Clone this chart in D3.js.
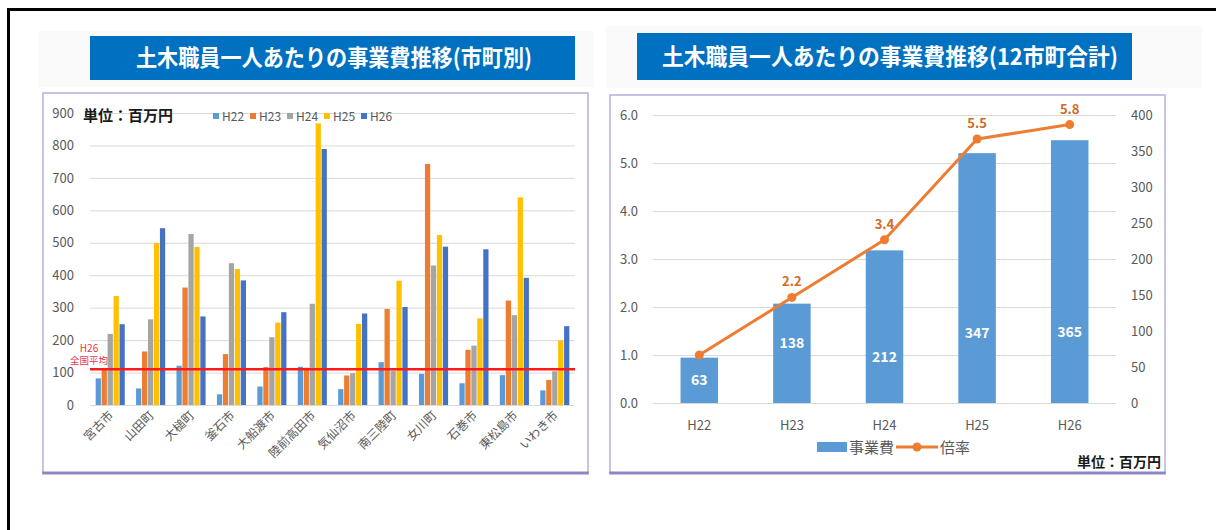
<!DOCTYPE html>
<html>
<head>
<meta charset="utf-8">
<script src="https://cdn.jsdelivr.net/npm/d3@7/dist/d3.min.js"></script>
<style>
  html, body { margin: 0; padding: 0; background: #fff; }
  svg { display: block; }
  text { font-family: "Noto Sans CJK JP", "Noto Sans", sans-serif; }
</style>
</head>
<body>
<svg id="chart" width="1216" height="530"></svg>
<script>
// ---- data: per-municipality cost per civil-engineering staff (百万円) ----
const municipalities = ["宮古市", "山田町", "大槌町", "釜石市", "大船渡市", "陸前高田市",
                        "気仙沼市", "南三陸町", "女川町", "石巻市", "東松島市", "いわき市"];
const yearKeys = ["H22", "H23", "H24", "H25", "H26"];
const valuesH22 = [82, 51, 121, 33, 57, 118, 49, 132, 96, 67, 92, 45];
const valuesH23 = [112, 165, 362, 157, 117, 115, 91, 296, 743, 170, 322, 77];
const valuesH24 = [219, 264, 527, 437, 209, 312, 98, 106, 430, 183, 277, 104];
const valuesH25 = [336, 499, 487, 419, 254, 868, 250, 383, 524, 267, 640, 199];
const valuesH26 = [249, 545, 273, 384, 286, 789, 282, 302, 488, 480, 392, 243];
const nationalAverageH26 = 110;
const leftTicks = [0, 100, 200, 300, 400, 500, 600, 700, 800, 900];

// ---- data: 12-municipality total ----
const totalYears = ["H22", "H23", "H24", "H25", "H26"];
const totalCost = [63, 138, 212, 347, 365];
const costRatio = [1.0, 2.2, 3.4, 5.5, 5.8];
const ratioTicks = [0, 1, 2, 3, 4, 5, 6];
const costTicks = [0, 50, 100, 150, 200, 250, 300, 350, 400];

const seriesValues = [valuesH22, valuesH23, valuesH24, valuesH25, valuesH26];
const seriesColors = ["#5b9bd5", "#ed7d31", "#a5a5a5", "#ffc000", "#4472c4"];
const gray = "#595959";
const grid = "#d9d9d9";

const svg = d3.select("#chart");

// page frame
svg.append("rect").attr("x", 7).attr("y", 8).attr("width", 1209).attr("height", 3).attr("fill", "#000");
svg.append("rect").attr("x", 7).attr("y", 8).attr("width", 3).attr("height", 522).attr("fill", "#000");

// faint backdrop behind the headings
svg.append("rect").attr("x", 38).attr("y", 31).attr("width", 556).attr("height", 56).attr("fill", "#fafafa");
svg.append("rect").attr("x", 606).attr("y", 26).attr("width", 596).attr("height", 62).attr("fill", "#fafafa");

function titleBox(x0, y0, x1, y1, label, tx0, tx1) {
  svg.append("rect").attr("x", x0).attr("y", y0).attr("width", x1 - x0).attr("height", y1 - y0)
    .attr("fill", "#0070c0");
  svg.append("text").attr("x", tx0).attr("y", (y0 + y1) / 2 + 8)
    .attr("textLength", tx1 - tx0).attr("lengthAdjust", "spacingAndGlyphs")
    .attr("fill", "#fff").attr("font-size", 23).attr("font-weight", 700).text(label);
}
function panel(x0, y0, x1, y1) {
  svg.append("rect").attr("x", x0).attr("y", y0).attr("width", x1 - x0).attr("height", y1 - y0)
    .attr("fill", "#fff").attr("stroke", "#b5b0e0").attr("stroke-width", 1.5);
  svg.append("rect").attr("x", x0 - 0.75).attr("y", y1 - 1.5).attr("width", x1 - x0 + 1.5).attr("height", 3)
    .attr("fill", "#8c86c6");
}

titleBox(90, 36, 575, 80, "土木職員一人あたりの事業費推移(市町別)", 136, 532);
titleBox(637, 33, 1132, 80, "土木職員一人あたりの事業費推移(12市町合計)", 662, 1118);
panel(43, 93, 588, 473);
panel(610, 95, 1165, 473);

// ================= left: grouped bars by municipality =================
{
  const x0 = d3.scaleBand().domain(municipalities).range([90, 575]).paddingInner(0.28).paddingOuter(0.14);
  const x1 = d3.scaleBand().domain(yearKeys).range([0, x0.bandwidth()]).paddingInner(0.12);
  const y = d3.scaleLinear().domain([0, 900]).range([405, 113]);
  const g = svg.append("g");

  g.append("g").selectAll("line").data(leftTicks).join("line")
    .attr("x1", 90).attr("x2", 575).attr("y1", d => y(d) + 0.5).attr("y2", d => y(d) + 0.5)
    .attr("stroke", grid).attr("stroke-width", 1);

  const yAxis = d3.axisLeft(y).tickValues(leftTicks).tickSize(0).tickPadding(0);
  const ya = g.append("g").attr("transform", "translate(74,0)").call(yAxis);
  ya.select(".domain").remove();
  ya.selectAll("text").attr("fill", gray).attr("font-size", 13)
    .attr("font-family", "'Noto Sans', sans-serif");

  const groups = g.append("g").selectAll("g").data(municipalities).join("g")
    .attr("transform", d => `translate(${x0(d)},0)`);
  groups.selectAll("rect").data((m, i) => yearKeys.map((k, s) => ({ k, s, v: seriesValues[s][i] })))
    .join("rect")
    .attr("x", d => x1(d.k)).attr("width", x1.bandwidth())
    .attr("y", d => y(d.v)).attr("height", d => y(0) - y(d.v))
    .attr("fill", d => seriesColors[d.s]);

  // national average line
  g.append("line").attr("x1", 90).attr("x2", 575)
    .attr("y1", y(nationalAverageH26)).attr("y2", y(nationalAverageH26))
    .attr("stroke", "#ff1a1a").attr("stroke-width", 2.5);
  g.append("text").attr("x", 89).attr("y", 352).attr("text-anchor", "middle")
    .attr("fill", "#e8384a").attr("font-size", 10).text("H26");
  g.append("text").attr("x", 89).attr("y", 364).attr("text-anchor", "middle")
    .attr("fill", "#e8384a").attr("font-size", 9.5).text("全国平均");

  // category labels
  g.append("g").selectAll("text").data(municipalities).join("text")
    .attr("transform", d => `translate(${x0(d) + x0.bandwidth() / 2 + 4},416) rotate(-45)`)
    .attr("text-anchor", "end").attr("fill", gray).attr("font-size", 12).text(d => d);

  // unit + legend
  g.append("text").attr("x", 83).attr("y", 121).attr("fill", "#1a1a1a")
    .attr("font-size", 15).attr("font-weight", 700).text("単位：百万円");
  const leg = g.append("g").selectAll("g").data(yearKeys).join("g")
    .attr("transform", (d, i) => `translate(${213 + i * 37},116)`);
  leg.append("rect").attr("x", 0).attr("y", -3).attr("width", 6).attr("height", 6)
    .attr("fill", (d, i) => seriesColors[i]);
  leg.append("text").attr("x", 9).attr("y", 4.5).attr("fill", gray).attr("font-size", 12)
    .attr("font-family", "'Noto Sans', sans-serif").text(d => d);
}

// ================= right: total cost bars + ratio line =================
{
  const x = d3.scaleBand().domain(totalYears).range([653, 1116]).paddingInner(0.595).paddingOuter(0.2975);
  const yL = d3.scaleLinear().domain([0, 6]).range([403, 115]);
  const yR = d3.scaleLinear().domain([0, 400]).range([403, 115]);
  const g = svg.append("g");

  g.append("g").selectAll("line").data(ratioTicks).join("line")
    .attr("x1", 653).attr("x2", 1116).attr("y1", d => yL(d) + 0.5).attr("y2", d => yL(d) + 0.5)
    .attr("stroke", grid).attr("stroke-width", 1);

  const la = g.append("g").attr("transform", "translate(638,0)")
    .call(d3.axisLeft(yL).tickValues(ratioTicks).tickSize(0).tickPadding(0).tickFormat(d3.format(".1f")));
  la.select(".domain").remove();
  la.selectAll("text").attr("fill", gray).attr("font-size", 13).attr("font-family", "'Noto Sans', sans-serif");

  const ra = g.append("g").attr("transform", "translate(1131,0)")
    .call(d3.axisRight(yR).tickValues(costTicks).tickSize(0).tickPadding(0));
  ra.select(".domain").remove();
  ra.selectAll("text").attr("fill", gray).attr("font-size", 13).attr("font-family", "'Noto Sans', sans-serif");

  const xa = g.append("g").attr("transform", "translate(0,421)")
    .call(d3.axisBottom(x).tickSize(0).tickPadding(0));
  xa.select(".domain").remove();
  xa.selectAll("text").attr("fill", gray).attr("font-size", 13).attr("font-family", "'Noto Sans', sans-serif");

  g.append("g").selectAll("rect").data(totalYears).join("rect")
    .attr("x", d => x(d)).attr("width", x.bandwidth())
    .attr("y", (d, i) => yR(totalCost[i])).attr("height", (d, i) => yR(0) - yR(totalCost[i]))
    .attr("fill", "#5b9bd5");

  // value labels inside the bars, anchored along the 事業費 axis
  const labelAnchor = [32, 83, 64, 97, 98];
  g.append("g").selectAll("text").data(totalYears).join("text")
    .attr("x", d => x(d) + x.bandwidth() / 2).attr("y", (d, i) => yR(labelAnchor[i]) + 5)
    .attr("text-anchor", "middle").attr("fill", "#fff").attr("font-size", 14).attr("font-weight", 700)
    .attr("font-family", "'Noto Sans', sans-serif")
    .text((d, i) => totalCost[i]);

  const cx = d => x(d) + x.bandwidth() / 2;
  const line = d3.line().x(d => cx(d[0])).y(d => yL(d[1]));
  const pts = totalYears.map((d, i) => [d, costRatio[i]]);
  g.append("path").datum(pts).attr("d", line).attr("fill", "none")
    .attr("stroke", "#ed7d31").attr("stroke-width", 3).attr("stroke-linejoin", "round");
  g.append("g").selectAll("circle").data(pts).join("circle")
    .attr("cx", d => cx(d[0])).attr("cy", d => yL(d[1])).attr("r", 4.5).attr("fill", "#ed7d31");
  g.append("g").selectAll("text").data(pts.slice(1)).join("text")
    .attr("x", d => cx(d[0])).attr("y", d => yL(d[1]) - 11)
    .attr("text-anchor", "middle").attr("fill", "#d06a25").attr("font-size", 13).attr("font-weight", 700)
    .attr("font-family", "'Noto Sans', sans-serif")
    .text(d => d3.format(".1f")(d[1]));

  // legend
  g.append("rect").attr("x", 817).attr("y", 442).attr("width", 30).attr("height", 10).attr("fill", "#5b9bd5");
  g.append("text").attr("x", 849).attr("y", 452.5).attr("fill", gray).attr("font-size", 15).text("事業費");
  g.append("line").attr("x1", 896).attr("x2", 938).attr("y1", 447).attr("y2", 447)
    .attr("stroke", "#ed7d31").attr("stroke-width", 3);
  g.append("circle").attr("cx", 917).attr("cy", 447).attr("r", 4.5).attr("fill", "#ed7d31");
  g.append("text").attr("x", 940).attr("y", 452.5).attr("fill", gray).attr("font-size", 15).text("倍率");

  g.append("text").attr("x", 1161).attr("y", 467).attr("text-anchor", "end").attr("fill", "#1a1a1a")
    .attr("font-size", 14).attr("font-weight", 700).text("単位：百万円");
}
</script>
</body>
</html>
